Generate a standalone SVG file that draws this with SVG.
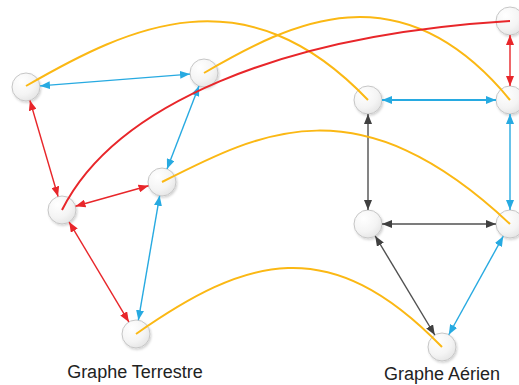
<svg xmlns="http://www.w3.org/2000/svg" width="519" height="385" viewBox="0 0 519 385">
<defs>
  <radialGradient id="ng" cx="0.35" cy="0.3" r="0.8">
    <stop offset="0" stop-color="#ffffff"/>
    <stop offset="0.6" stop-color="#f4f4f4"/>
    <stop offset="1" stop-color="#e2e2e2"/>
  </radialGradient>
  <filter id="sh" x="-30%" y="-30%" width="160%" height="160%">
    <feDropShadow dx="1" dy="1.5" stdDeviation="1" flood-color="#000" flood-opacity="0.18"/>
  </filter>
  <marker id="ar" viewBox="0 0 10 8" refX="10" refY="4" markerWidth="10" markerHeight="8" markerUnits="userSpaceOnUse" orient="auto-start-reverse"><path d="M0,0 L10,4 L0,8 z" fill="#e8262a"/></marker>
  <marker id="ab" viewBox="0 0 10 8" refX="10" refY="4" markerWidth="10" markerHeight="8" markerUnits="userSpaceOnUse" orient="auto-start-reverse"><path d="M0,0 L10,4 L0,8 z" fill="#27aae1"/></marker>
  <marker id="ak" viewBox="0 0 10 8" refX="10" refY="4" markerWidth="10" markerHeight="8" markerUnits="userSpaceOnUse" orient="auto-start-reverse"><path d="M0,0 L10,4 L0,8 z" fill="#404040"/></marker>
</defs>
<style>
  .node{fill:url(#ng);stroke:#c6c6c6;stroke-width:1;filter:url(#sh)}
  .red{stroke:#e8262a;stroke-width:1.4;fill:none;marker-start:url(#ar);marker-end:url(#ar)}
  .blue{stroke:#27aae1;stroke-width:1.4;fill:none;marker-start:url(#ab);marker-end:url(#ab)}
  .blk{stroke:#505050;stroke-width:1.4;fill:none;marker-start:url(#ak);marker-end:url(#ak)}
  .yel{stroke:#fbb814;stroke-width:2;fill:none}
  .redc{stroke:#e8262a;stroke-width:2;fill:none}
  .lbl{font-family:"Liberation Sans",Arial,sans-serif;font-size:18px;fill:#222;text-anchor:middle}
</style>
<rect width="519" height="385" fill="#fff"/>
<g id="nodes">
  <g id="t1"><circle class="node" cx="26" cy="87" r="14"/></g>
  <g id="t2"><circle class="node" cx="204" cy="73" r="14"/></g>
  <g id="t3"><circle class="node" cx="162" cy="182" r="14"/></g>
  <g id="t4"><circle class="node" cx="62" cy="210" r="14"/></g>
  <g id="t5"><circle class="node" cx="136" cy="334" r="14"/></g>
  <g id="a1"><circle class="node" cx="510" cy="21" r="14"/></g>
  <g id="a2"><circle class="node" cx="368" cy="100" r="14"/></g>
  <g id="a3"><circle class="node" cx="510" cy="100" r="14"/></g>
  <g id="a4"><circle class="node" cx="368" cy="224" r="14"/></g>
  <g id="a5"><circle class="node" cx="510" cy="224" r="14"/></g>
  <g id="a6"><circle class="node" cx="442" cy="347" r="14"/></g>
</g>
<g id="connectors">
  <line class="blue" x1="39.96" y1="85.90" x2="190.04" y2="74.10"/>
  <line class="red" x1="29.93" y1="100.44" x2="58.07" y2="196.56"/>
  <line class="red" x1="75.48" y1="206.23" x2="148.52" y2="185.77"/>
  <line class="red" x1="69.17" y1="222.02" x2="128.83" y2="321.98"/>
  <line class="blue" x1="198.97" y1="86.06" x2="167.03" y2="168.94"/>
  <line class="blue" x1="159.64" y1="195.80" x2="138.36" y2="320.20"/>
  <line class="red" x1="510" y1="35" x2="510" y2="86"/>
  <line class="blue" x1="382" y1="100" x2="496" y2="100" style="stroke-width:2"/>
  <line class="blue" x1="510" y1="114" x2="510" y2="210"/>
  <line class="blk" x1="368" y1="114" x2="368" y2="210"/>
  <line class="blk" x1="382" y1="224" x2="496" y2="224"/>
  <line class="blk" x1="375.22" y1="236.0" x2="434.78" y2="335.0"/>
  <line class="blue" x1="503.23" y1="236.25" x2="448.77" y2="334.75"/>
  <path class="yel" d="M26,86 C130,26 245,-29 368,100"/>
  <path class="yel" d="M204,73 C290,23 400,-34 510,100"/>
  <path class="yel" d="M162,182 C262,131 359,82 510,224"/>
  <path class="yel" d="M136,334 C246,257 329.3,230.7 442,347"/>
  <path class="redc" d="M62,210 C115,105 280,35 510,21"/>
</g>
<text class="lbl" x="135" y="378">Graphe Terrestre</text>
<text class="lbl" x="442" y="380">Graphe Aérien</text>
</svg>
